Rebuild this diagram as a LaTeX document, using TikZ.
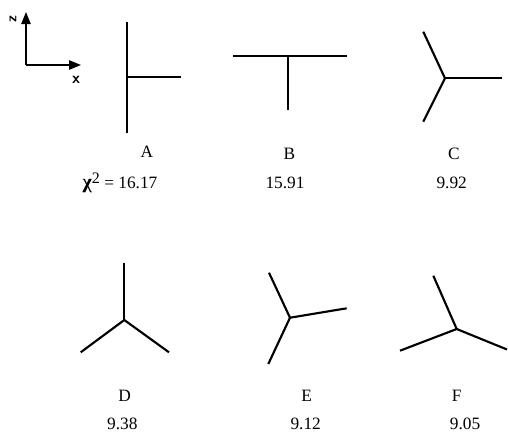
\documentclass[tikz,border=0pt]{standalone}
\usepackage{fontspec}
\setmainfont{Liberation Serif}
\usetikzlibrary{arrows.meta}
\begin{document}
\begin{tikzpicture}[x=0.75pt,y=-0.75pt,
  bond/.style={line width=1.6pt,line cap=butt},
  axis/.style={line width=1.2pt,-{Triangle[length=9pt,width=7pt]}},
  lbl/.style={font=\fontsize{13}{15}\selectfont,inner sep=0pt},
  val/.style={font=\fontsize{13}{15}\selectfont,inner sep=0pt}]
\useasboundingbox (0,0) rectangle (508,433);
% axes
\coordinate (o) at (26,65);
\coordinate (zt) at (26,12);
\coordinate (xt) at (81,65);
\draw[axis] (o) -- (zt);
\draw[axis] (o) -- (xt);
\node[lbl,font=\sffamily\bfseries\fontsize{11}{12}\selectfont,rotate=90] (zl) at (13,19) {z};
\node[lbl,font=\sffamily\bfseries\fontsize{12}{13}\selectfont] (xl) at (76,80) {x};
% A
\coordinate (a1) at (126.7,21.7);
\coordinate (a2) at (126.7,132.7);
\coordinate (ac) at (126.7,77);
\coordinate (a3) at (181,77);
\draw[bond] (a1) -- (a2);
\draw[bond] (ac) -- (a3);
\node[lbl] (la) at (147,152) {A};
\node[val] (va) at (120,183) {\textbf{\fontsize{15}{15}\selectfont χ}\raisebox{0.55ex}{\fontsize{12}{12}\selectfont 2} = 16.17};
% B
\coordinate (b1) at (233,56);
\coordinate (b2) at (346.7,56);
\coordinate (bc) at (288.3,56);
\coordinate (b3) at (288.3,110);
\draw[bond] (b1) -- (b2);
\draw[bond] (bc) -- (b3);
\node[lbl] (lb) at (289.3,154) {B};
\node[val] (vb) at (285,183) {15.91};
% C
\coordinate (cc) at (445,78.3);
\coordinate (c1) at (423.3,31.7);
\coordinate (c2) at (502.3,78.3);
\coordinate (c3) at (423.3,121.7);
\draw[bond] (c1) -- (cc) -- (c3);
\draw[bond] (cc) -- (c2);
\node[lbl] (lc) at (454,154) {C};
\node[val] (vc) at (451.7,183) {9.92};
% D
\coordinate (dc) at (124.3,320);
\coordinate (d1) at (124.3,263.3);
\coordinate (d2) at (80.7,352.3);
\coordinate (d3) at (169,352.3);
\draw[bond] (d1) -- (dc);
\draw[bond] (d2) -- (dc) -- (d3);
\node[lbl] (ld) at (124.7,395.7) {D};
\node[val] (vd) at (122.3,424) {9.38};
% E
\coordinate (ec) at (290,317.7);
\coordinate (e1) at (269,272.7);
\coordinate (e2) at (346.7,308.3);
\coordinate (e3) at (268.3,364);
\draw[bond] (e1) -- (ec) -- (e3);
\draw[bond] (ec) -- (e2);
\node[lbl] (le) at (306.7,395.7) {E};
\node[val] (ve) at (305.7,424) {9.12};
% F
\coordinate (fc) at (456.7,329);
\coordinate (f1) at (433.3,275.7);
\coordinate (f2) at (400,350.7);
\coordinate (f3) at (507,349.5);
\draw[bond] (f1) -- (fc);
\draw[bond] (f2) -- (fc) -- (f3);
\node[lbl] (lf) at (456.7,395.7) {F};
\node[val] (vf) at (465,424) {9.05};
\end{tikzpicture}
\end{document}
